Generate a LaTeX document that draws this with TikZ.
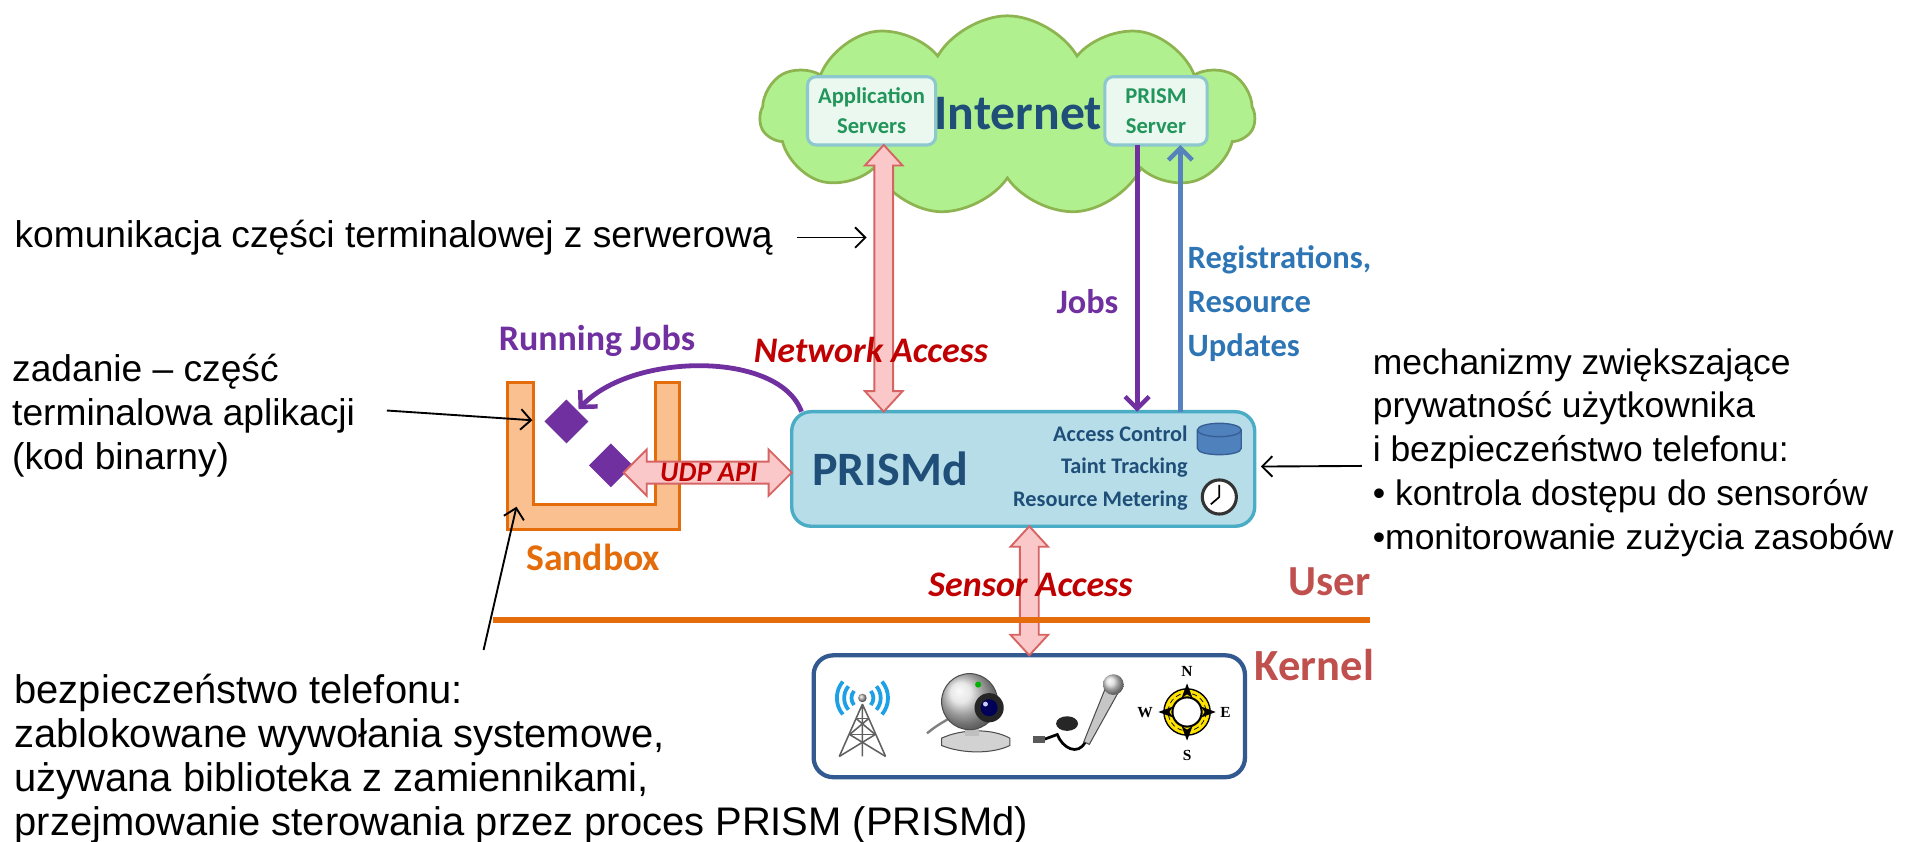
\documentclass[tikz,border=0pt]{standalone}
\usepackage{fontspec}
\setmainfont{Liberation Sans}
\newfontfamily\labelfont{Carlito}
\newfontfamily\compassfont{Liberation Serif}
\usetikzlibrary{shapes.geometric,shapes.symbols,arrows.meta,calc}

\definecolor{cloudfill}{RGB}{176,240,142}
\definecolor{cloudline}{RGB}{141,180,80}
\definecolor{srvfill}{RGB}{234,248,240}
\definecolor{srvline}{RGB}{140,200,205}
\definecolor{srvtext}{RGB}{34,150,90}
\definecolor{navy}{RGB}{31,78,121}
\definecolor{jobpurple}{RGB}{112,48,160}
\definecolor{regblue}{RGB}{46,117,182}
\definecolor{regline}{RGB}{86,130,190}
\definecolor{accred}{RGB}{192,0,0}
\definecolor{pinkfill}{RGB}{250,200,200}
\definecolor{pinkline}{RGB}{214,100,100}
\definecolor{dfill}{RGB}{183,222,232}
\definecolor{dline}{RGB}{75,172,198}
\definecolor{sbxline}{RGB}{228,108,10}
\definecolor{sbxfill}{RGB}{250,192,144}
\definecolor{layer}{RGB}{192,80,77}
\definecolor{kline}{RGB}{50,90,145}
\definecolor{dbblue}{RGB}{79,129,189}
\definecolor{dbline}{RGB}{55,95,150}
\definecolor{wave}{RGB}{30,160,230}

\newcommand{\setfs}[2]{\fontsize{#1}{#2}\selectfont}

\begin{document}
\begin{tikzpicture}[x=0.025cm, y=-0.025cm, inner sep=0, outer sep=0,
  txt/.style={font=\setfs{21.7}{25.6}, align=left, anchor=west},
  note/.style={draw=black, line width=1.1pt, -{Straight Barb[length=6pt, width=12pt, line width=1.1pt]}},
  srv/.style={rectangle, rounded corners=5pt, draw=srvline, fill=srvfill, line width=1.8pt,
    align=center, text=srvtext, font=\labelfont\bfseries\setfs{13.2}{17.5}},
  lbl/.style={font=\labelfont\bfseries\setfs{21}{25}},
  acc/.style={font=\labelfont\bfseries\itshape\setfs{21}{25}, text=accred},
  pinkarrow/.style={fill=pinkfill, draw=pinkline, line width=1.1pt, line join=miter},
  vfat/.style={pinkarrow, to path={let \p1=(\tikztostart), \p2=(\tikztotarget) in
      (\x1,\y1) -- ({\x1+11pt},{\y1-12pt}) -- ({\x1+5.5pt},{\y1-12pt})
      -- ({\x1+5.5pt},{\y2+12pt}) -- ({\x1+11pt},{\y2+12pt}) -- (\x1,\y2)
      -- ({\x1-11pt},{\y2+12pt}) -- ({\x1-5.5pt},{\y2+12pt})
      -- ({\x1-5.5pt},{\y1-12pt}) -- ({\x1-11pt},{\y1-12pt}) -- cycle}},
  hfat/.style={pinkarrow, to path={let \p1=(\tikztostart), \p2=(\tikztotarget) in
      (\x1,\y1) -- ({\x1+13.5pt},{\y1+13.5pt}) -- ({\x1+13.5pt},{\y1+6.4pt})
      -- ({\x2-13.5pt},{\y1+6.4pt}) -- ({\x2-13.5pt},{\y1+13.5pt}) -- (\x2,\y1)
      -- ({\x2-13.5pt},{\y1-13.5pt}) -- ({\x2-13.5pt},{\y1-6.4pt})
      -- ({\x1+13.5pt},{\y1-6.4pt}) -- ({\x1+13.5pt},{\y1-13.5pt}) -- cycle}},
  flow/.style={line width=2.8pt, -{Straight Barb[length=7pt, width=14pt, line width=2.6pt]}},
  ]
  \useasboundingbox (0,0) rectangle (1568,691);

  % internet cloud with the two servers
  \node[cloud, cloud puffs=11, cloud puff arc=120, cloud ignores aspect,
    minimum width=10.15cm, minimum height=4.1cm,
    draw=cloudline, fill=cloudfill, line width=1.6pt] (net) at (827,95) {};
  \node[srv, minimum width=2.63cm, minimum height=1.4cm] (appsrv) at (715.5,91) {Application\\Servers};
  \node[srv, minimum width=2.1cm, minimum height=1.4cm] (psrv) at (949,91) {PRISM\\Server};
  \node[font=\labelfont\bfseries\setfs{29}{30}, text=navy] (inet) at (836,93) {Internet};

  % PRISMd daemon
  \node[rectangle, rounded corners=0.4cm, draw=dline, fill=dfill, line width=2pt,
    minimum width=9.5cm, minimum height=2.35cm] (prismd) at (840,385) {};
  \node[anchor=west, text=navy, font=\labelfont\bfseries\setfs{28}{30}] (dname) at ($(prismd.west)+(17,0)$) {PRISMd};
  \node[anchor=east, align=right, text=navy, font=\labelfont\bfseries\setfs{13}{19}] (dmech) at (975,384)
    {Access Control\\Taint Tracking\\Resource Metering};
  % database + clock
  \filldraw[fill=dbblue, draw=dbline, line width=0.8pt] (983,353) -- (983,368) .. controls (983,375) and (1019,375) .. (1019,368) -- (1019,353);
  \filldraw[fill=dbblue, draw=dbline, line width=0.8pt] (1001,353) ellipse [x radius=18, y radius=5.5];
  \filldraw[fill=white, draw=black!80, line width=1.8pt] (1001,408) circle (14);
  \draw[black, line width=1pt] (1001,408) -- (1001,398) (1001,408) -- (994,414);

  % network side
  \coordinate (netx) at ($(appsrv.south)+(10,0)$);
  \draw[vfat] (netx) to (netx |- prismd.north);
  \node[acc] (netlbl) at (715,287) {Network Access};

  \coordinate (jtop) at ($(psrv.south)+(-15.5,0)$);
  \coordinate (rtop) at ($(psrv.south)+(20,0)$);
  \draw[flow, draw=jobpurple] (jtop) -- (jtop |- prismd.north);
  \draw[flow, draw=regline] (rtop |- prismd.north) -- (rtop);
  \node[lbl, text=jobpurple, anchor=east, font=\labelfont\bfseries\setfs{20}{24}] (jobslbl) at (918,248) {Jobs};
  \node[font=\labelfont\bfseries\setfs{19}{25.6}, text=regblue, align=left, anchor=west] (reglbl) at (975,249)
    {Registrations,\\Resource\\Updates};

  % sandbox
  \coordinate (sbx) at (417,314);
  \filldraw[fill=sbxfill, draw=sbxline, line width=1.8pt] (sbx) -- ++(21,0) -- ++(0,100) -- ++(100,0) -- ++(0,-100)
    -- ++(20,0) -- ++(0,121) -- ++(-141,0) -- cycle;
  \node[lbl, text=sbxline, font=\labelfont\bfseries\setfs{22}{26}] (sbxlbl) at (487,458) {Sandbox};
  \node[lbl, text=jobpurple] (runlbl) at (490,280) {Running Jobs};
  \node[diamond, fill=jobpurple, minimum size=0.9cm] (job1) at (465,346) {};
  \node[diamond, fill=jobpurple, minimum size=0.9cm] (job2) at (501.5,382) {};

  \draw[flow, draw=jobpurple, shorten >=1pt] ($(prismd.north west)+(8,0)$) .. controls +(-18,-50) and +(45,-48) .. (job1.north east);

  \coordinate (udp) at (512,388);
  \draw[hfat] (udp) to (udp -| prismd.west);
  \node[acc, font=\labelfont\bfseries\itshape\setfs{16.5}{18}] (udplbl) at (582,388) {UDP API};

  % user / kernel boundary
  \node[rectangle, rounded corners=0.4cm, draw=kline, fill=white, line width=2.5pt,
    minimum width=8.85cm, minimum height=2.5cm] (kernel) at (845,588) {};
  \draw[vfat] (kernel.north |- prismd.south) to (kernel.north);
  \draw[sbxline, line width=3.5pt] (405,509) -- (1125,509);
  \node[acc] (senslbl) at (846,480) {Sensor Access};
  \node[font=\labelfont\bfseries\setfs{25}{27}, text=layer, anchor=east] (userlbl) at (1125,478) {User};
  \node[font=\labelfont\bfseries\setfs{26}{28}, text=layer, anchor=east] (kernlbl) at (1128,546) {Kernel};

  % sensors: antenna
  \begin{scope}[gray!75!black, line width=0.9pt]
    \draw (708,578) -- (689,621) (708,578) -- (727,621) (708,578) -- (708,621);
    \draw (703,590) -- (713,590) (697.5,603) -- (718.5,603);
    \draw (703,590) -- (718.5,603) (713,590) -- (697.5,603);
    \draw (697.5,603) -- (727,621) (718.5,603) -- (689,621);
  \end{scope}
  \shade[ball color=gray!60] (708,573) circle (3.5);
  \foreach \r in {9,15,21} {
    \draw[wave, line width=2.2pt] (708,573) ++(-40:\r) arc[start angle=-40, end angle=40, radius=\r];
    \draw[wave, line width=2.2pt] (708,573) ++(140:\r) arc[start angle=140, end angle=220, radius=\r];
  }
  % webcam
  \draw[gray, line width=1.4pt] (779,590) .. controls (770,595) and (766,598) .. (761,602);
  \filldraw[draw=gray!60!black, fill=gray!35, line width=0.6pt] (773,606) .. controls (790,598) and (815,598) .. (829,606)
    -- (829,612) .. controls (815,619) and (790,619) .. (773,612) -- cycle;
  \fill[gray!50] (792,594) rectangle (804,604);
  \shade[ball color=gray!25] (796,576) circle (23);
  \draw[gray!60!black, line width=0.6pt] (796,576) circle (23);
  \fill[black!85] (812,581) circle (12);
  \fill[blue!35!black] (812,581) circle (7);
  \fill[blue!20!white] (809,578) circle (2);
  \fill[green!70!black] (803,562) circle (2.5);
  % microphone
  \draw[black, line width=1.6pt] (891,609) .. controls (885,621) and (872,614) .. (868,603) -- (857,607);
  \fill[black!85] (876,594) ellipse [x radius=9, y radius=6];
  \fill[gray!70!black] (848,604) rectangle (858,610);
  \filldraw[fill=gray!45, draw=gray!60!black, line width=0.6pt] (918,568.4) -- (908,563.6) -- (889.75,608.9) -- (894.25,611.1) -- cycle;
  \shade[ball color=gray!30] (914,562) circle (8.5);
  % compass
  \filldraw[fill=yellow!85!orange, draw=black, line width=0.8pt] (974.5,584.5) circle (19);
  \draw[black, densely dashed, line width=0.4pt] (974.5,584.5) circle (15.5);
  \filldraw[fill=white, draw=black, line width=1.2pt] (974.5,584.5) circle (12);
  \foreach \a in {0,90,180,270}
    \fill[black, rotate around={\a:(974.5,584.5)}] (974.5,561) -- (979,573) -- (974.5,570) -- (970,573) -- cycle;
  \node[font=\compassfont\bfseries\setfs{9}{10}] (cn) at (974.5,551.5) {N};
  \node[font=\compassfont\bfseries\setfs{9}{10}] (cs) at (974.5,620) {S};
  \node[font=\compassfont\bfseries\setfs{9}{10}] (cw) at (940,585) {W};
  \node[font=\compassfont\bfseries\setfs{9}{10}] (ce) at (1006,585) {E};

  % annotations
  \node[txt] (comm) at (12,195) {komunikacja części terminalowej z serwerową};
  \draw[note] ($(comm.east)+(20,0)$) -- ($(netx |- comm.east)+(-14,0)$);

  \node[txt] (task) at (10,341) {zadanie – część\\terminalowa aplikacji\\(kod binarny)};
  \draw[note] ($(task.east)+(26,-4)$) -- ($(sbx)+(20,31)$);

  \node[txt, font=\setfs{20.7}{25.6}] (mech) at (1127,371.5) {mechanizmy zwiększające\\prywatność użytkownika\\i bezpieczeństwo telefonu:\\• kontrola dostępu do sensorów\\•monitorowanie zużycia zasobów};
  \draw[note] ($(mech.west)+(-9,11)$) -- ($(prismd.east)+(5,-2)$);

  \node[txt, font=\setfs{23.3}{25.6}] (phone) at (12,623) {bezpieczeństwo telefonu:\\zablokowane wywołania systemowe,\\używana biblioteka z zamiennikami,\\przejmowanie sterowania przez proces PRISM (PRISMd)};
  \draw[note] ($(phone.north west)+(385,-20)$) -- ($(sbx)+(7,102)$);
\end{tikzpicture}
\end{document}
